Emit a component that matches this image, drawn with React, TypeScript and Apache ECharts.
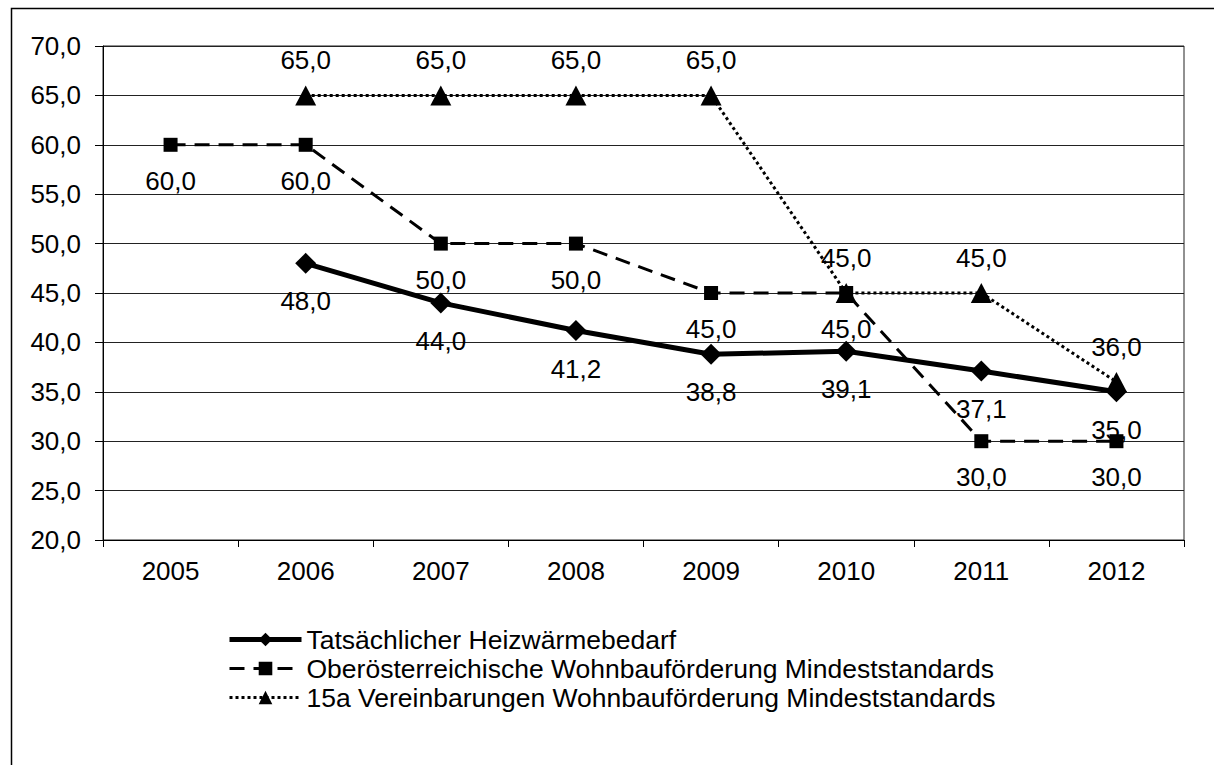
import React, { useEffect, useRef } from "react";
import * as echarts from "echarts";

const years = ["2005", "2006", "2007", "2008", "2009", "2010", "2011", "2012"];
const heizwaermebedarf = [null, 48.0, 44.0, 41.2, 38.8, 39.1, 37.1, 35.0];
const ooeMindeststandards = [60.0, 60.0, 50.0, 50.0, 45.0, 45.0, 30.0, 30.0];
const vereinbarung15a = [null, 65.0, 65.0, 65.0, 65.0, 45.0, 45.0, 36.0];
const seriesNames = [
  "Tatsächlicher Heizwärmebedarf",
  "Oberösterreichische Wohnbauförderung Mindeststandards",
  "15a Vereinbarungen Wohnbauförderung Mindeststandards",
];
const yMin = 20;
const yMax = 70;
const yStep = 5;

const FONT = "'Liberation Sans', Arial, sans-serif";
const fmt = (v: any) => {
  const n = typeof v === "number" ? v : Array.isArray(v) ? v[v.length - 1] : Number(v);
  return n.toFixed(1).replace(".", ",");
};

export default function App() {
  const ref = useRef<HTMLDivElement>(null);
  useEffect(() => {
    const chart = echarts.init(ref.current!, null, { renderer: "svg" });
    const labelBase = {
      show: true,
      position: "inside",
      color: "#000",
      fontSize: 26,
      fontFamily: FONT,
      formatter: (p: any) => fmt(p.value),
    };
    const lineStyles = [
      { color: "#000", width: 5 },
      { color: "#000", width: 3, type: [15, 9] },
      { color: "#000", width: 3, type: [3, 3] },
    ];
    chart.setOption({
      animation: false,
      backgroundColor: "#fff",
      textStyle: { fontFamily: FONT, color: "#000" },
      graphic: [
        {
          type: "rect",
          left: 9,
          top: 6,
          shape: { x: 0, y: 0, width: 1400, height: 1000 },
          style: { fill: "none", stroke: "#000", lineWidth: 1.5 },
          silent: true,
        },
      ],
      grid: {
        left: 103,
        right: 30,
        top: 46,
        bottom: 225,
        show: true,
        borderColor: "#222",
        borderWidth: 1,
        backgroundColor: "transparent",
      },
      legend: {
        orient: "vertical",
        left: 222,
        top: 620,
        itemWidth: 72,
        itemHeight: 17,
        itemGap: 0,
        textStyle: { fontSize: 26.5, fontFamily: FONT, color: "#000", lineHeight: 29 },
        data: seriesNames.map((name, i) => ({ name, lineStyle: { ...lineStyles[i] } })),
      },
      xAxis: {
        type: "category",
        data: years,
        boundaryGap: true,
        axisLine: { show: true, lineStyle: { color: "#000", width: 1 } },
        axisTick: { show: true, length: 7, lineStyle: { color: "#000" } },
        axisLabel: { fontSize: 26, color: "#000", fontFamily: FONT, margin: 18 },
        splitLine: { show: false },
      },
      yAxis: {
        type: "value",
        min: yMin,
        max: yMax,
        interval: yStep,
        axisLine: { show: true, lineStyle: { color: "#000", width: 1 } },
        axisTick: { show: true, length: 8, lineStyle: { color: "#000" } },
        axisLabel: {
          fontSize: 26,
          color: "#000",
          fontFamily: FONT,
          margin: 22,
          formatter: (v: number) => fmt(v),
        },
        splitLine: { show: true, lineStyle: { color: "#222", width: 1 } },
      },
      series: [
        {
          name: seriesNames[0],
          type: "line",
          data: heizwaermebedarf,
          symbol: "diamond",
          symbolSize: 21,
          itemStyle: { color: "#000" },
          lineStyle: lineStyles[0],
          label: { ...labelBase, offset: [0, 38] },
          z: 3,
        },
        {
          name: seriesNames[1],
          type: "line",
          data: ooeMindeststandards,
          symbol: "rect",
          symbolSize: 14,
          itemStyle: { color: "#000" },
          lineStyle: lineStyles[1],
          label: { ...labelBase, offset: [0, 36] },
          z: 4,
        },
        {
          name: seriesNames[2],
          type: "line",
          data: vereinbarung15a,
          symbol: "triangle",
          symbolSize: [21, 20],
          itemStyle: { color: "#000" },
          lineStyle: lineStyles[2],
          label: { ...labelBase, offset: [0, -35] },
          z: 5,
        },
      ],
    });
    return () => chart.dispose();
  }, []);
  return (
    <div
      ref={ref}
      style={{ position: "fixed", left: 0, top: 0, width: 1214, height: 765, background: "#fff" }}
    />
  );
}
